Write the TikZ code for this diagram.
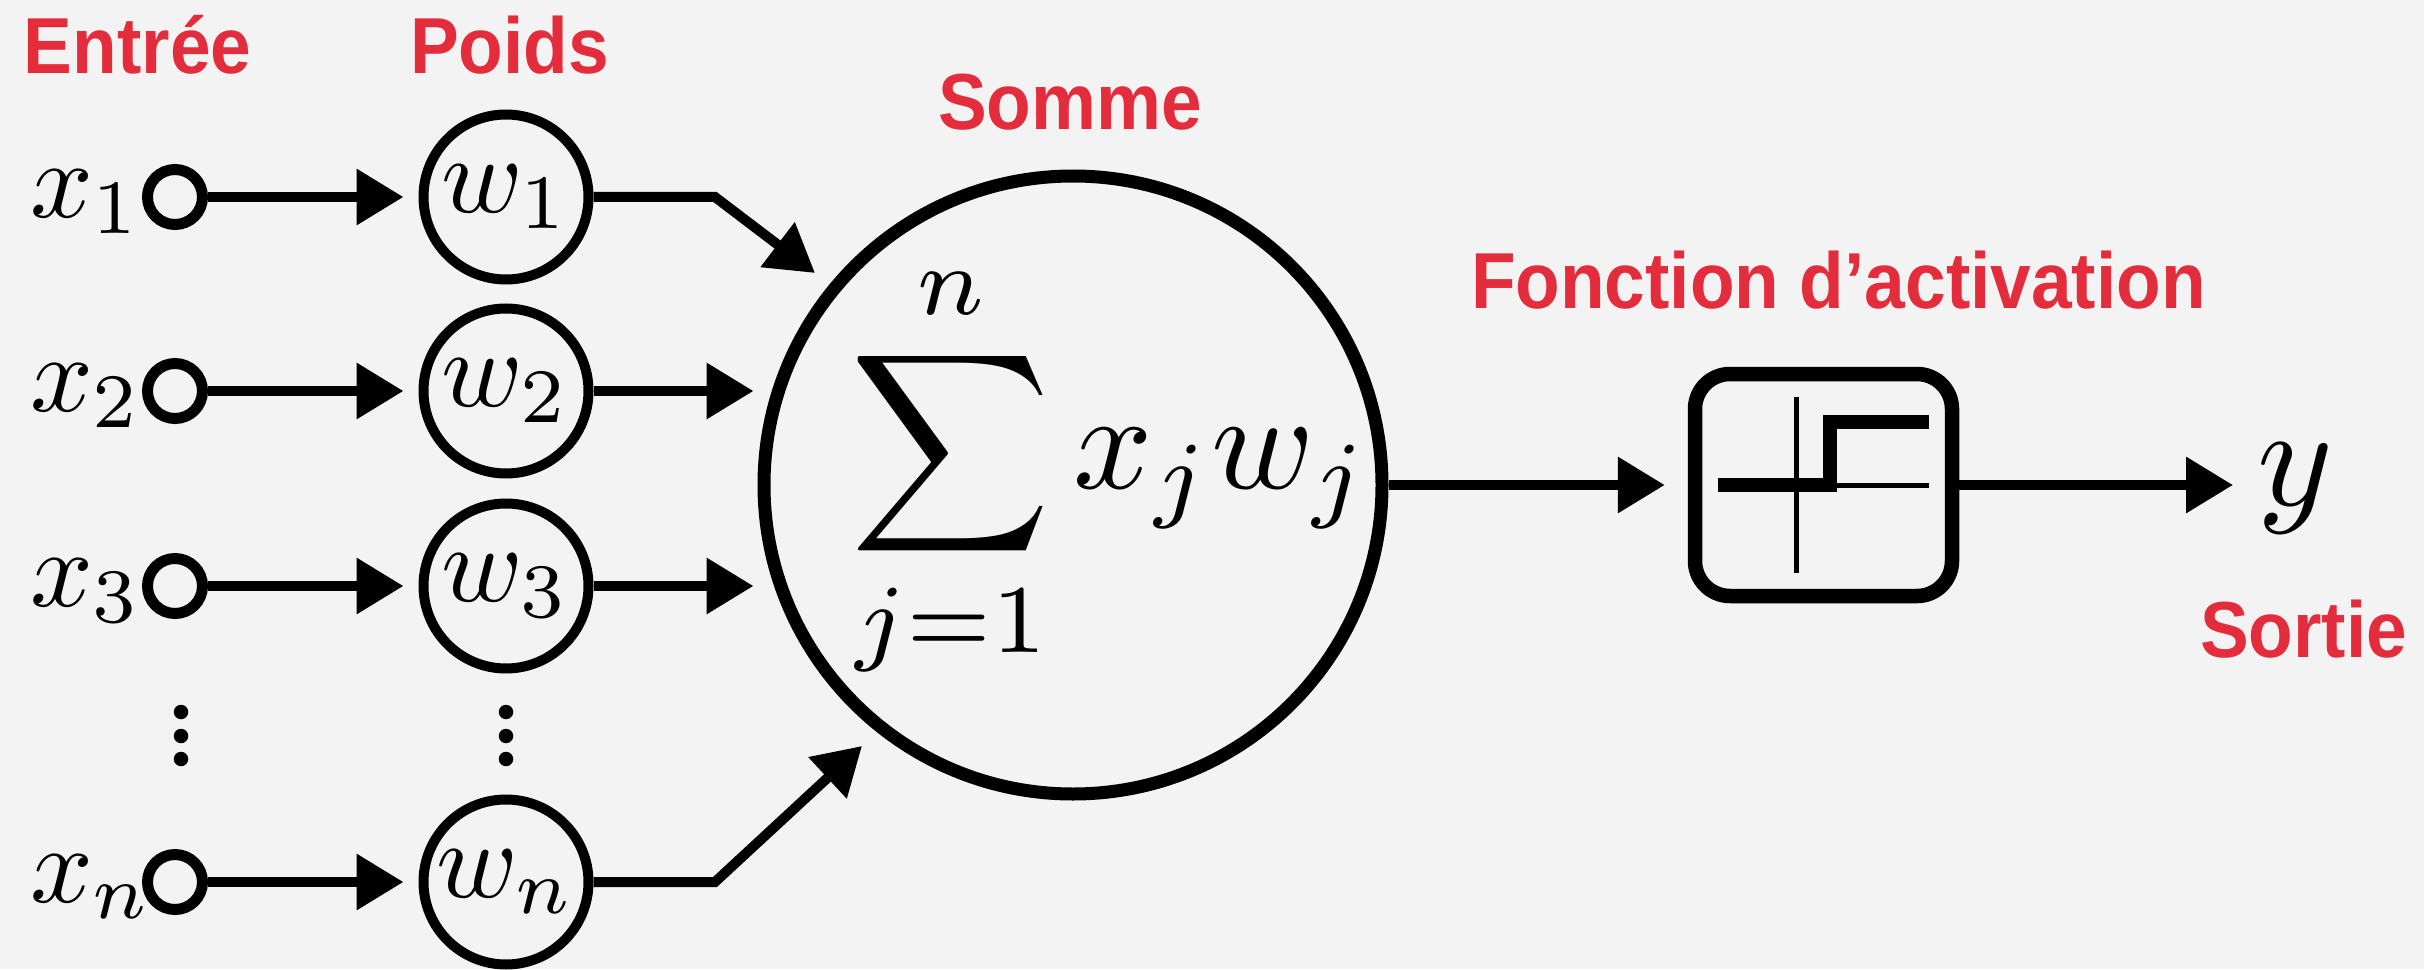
\documentclass[tikz,border=0pt]{standalone}
\usepackage{fontspec}
\usepackage{graphicx}
\usetikzlibrary{arrows.meta}
\newfontfamily\etiquette[FakeStretch=0.92]{Liberation Sans}
\definecolor{rouge}{HTML}{E42D3C}
\definecolor{fond}{HTML}{F3F3F3}
\newcommand{\grand}[1]{\scalebox{3.13}{$#1$}}

\begin{document}
\begin{tikzpicture}[x=1cm,y=1cm,line width=1mm,
  fleche/.style={-{Triangle[length=4.7mm,width=5.4mm]}},
  titre/.style={anchor=base west,inner sep=0pt,text=rouge,font=\fontsize{22.6}{24}\selectfont\etiquette\bfseries},
  maths/.style={anchor=base west,inner sep=0pt},
  entree/.style={draw,circle,minimum size=5.5mm,inner sep=0pt,line width=1.1mm},
  poids/.style={draw,circle,minimum size=16.5mm,inner sep=0pt},
  point/.style={fill,circle,minimum size=1.45mm,inner sep=0pt}]
\fill[fond] (0,0) rectangle (24.24,9.69);
\useasboundingbox (0,0) rectangle (24.24,9.69);
% titres
\node[titre] (tentree) at (0.19,8.95) {Entrée};
\node[titre] (tpoids) at (4.05,8.95) {Poids};
\node[titre] (tsomme) at (9.33,8.39) {Somme};
\node[titre] (tfonction) at (14.66,6.61) {Fonction d’activation};
\node[titre] (tsortie) at (21.95,3.12) {Sortie};
% somme et activation
\node[draw,circle,minimum size=61.8mm,inner sep=0pt,line width=1.3mm] (somme) at (10.73,4.84) {};
\node[anchor=center,inner sep=0pt] (formule) at (11.10,4.97) {\scalebox{3.95}{$\displaystyle\sum_{j=1}^n x_jw_j$}};
\node[draw,rounded corners=3.5mm,minimum width=25.7mm,minimum height=22.2mm,inner sep=0pt,line width=1.45mm] (activation) at (18.235,4.84) {};
\node[maths] (sortie) at (22.52,4.64) {\scalebox{4.1}{$y$}};
\draw[line width=0.5mm] (17.96,5.72) -- (17.96,3.96);
\draw[line width=0.5mm] (18.36,4.84) -- (19.29,4.84);
\draw[line width=1.4mm] (17.18,4.84) -- (18.30,4.84) -- (18.30,5.475) -- (19.29,5.475);
\draw[fleche,shorten >=2.3mm] (somme) -- (activation);
\draw[fleche,shorten >=1.9mm] (activation) -- (activation -| sortie.west);
% lignes d'entree
\newcommand{\rangee}[3]{
  \node[entree] (e#1) at (1.75,#2) {};
  \node[poids] (w#1) at (5.06,#2) {\grand{w_{#3}}};
  \node[maths] (x#1) at (0.25,#2-0.20) {\grand{x_{#3}}};
  \draw[fleche,shorten >=1.5mm] (e#1) -- (w#1);
}
\rangee{1}{7.72}{1}
\rangee{2}{5.78}{2}
\rangee{3}{3.83}{3}
\rangee{n}{0.87}{n}
% sorties des poids
\coordinate (c1) at (7.15,7.72);
\coordinate (s1) at (8.15,6.96);
\coordinate (cn) at (7.15,0.87);
\coordinate (sn) at (8.62,2.23);
\draw[fleche] (w1) -- (c1) -- (s1);
\draw[fleche] (wn) -- (cn) -- (sn);
\draw[fleche,shorten >=0.4mm] (w2) -- (w2 -| somme.west);
\draw[fleche,shorten >=0.4mm] (w3) -- (w3 -| somme.west);
% pointilles
\node[point] (p1) at (1.81,2.10) {};
\node[point] (p2) at (1.81,2.33) {};
\node[point] (p3) at (1.81,2.57) {};
\node[point] (q1) at (5.06,2.10) {};
\node[point] (q2) at (5.06,2.33) {};
\node[point] (q3) at (5.06,2.57) {};
\end{tikzpicture}
\end{document}
